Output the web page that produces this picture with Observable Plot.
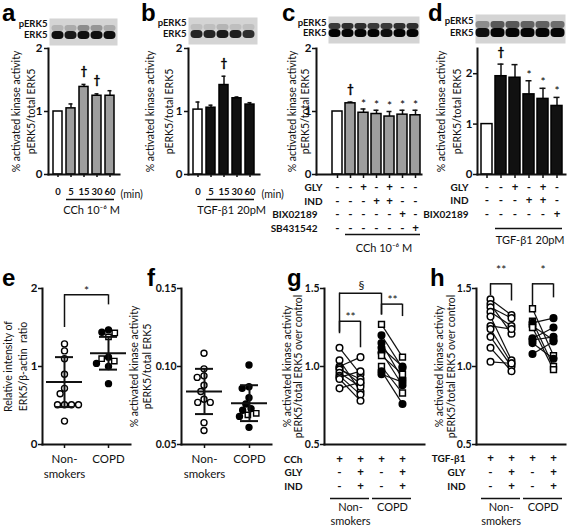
<!DOCTYPE html>
<html><head><meta charset="utf-8">
<script src="https://cdn.jsdelivr.net/npm/d3@7"></script>
<script src="https://cdn.jsdelivr.net/npm/@observablehq/plot@0.6"></script>
<style>
html,body{margin:0;padding:0;background:#fff;}
#root{position:relative;width:567px;height:527px;overflow:hidden;font-family:Lato,"Open Sans",sans-serif;}
#root svg{position:absolute;left:0;top:0;}
.letter{position:absolute;font:bold 24px "Liberation Sans",Arial,sans-serif;line-height:26px;color:#000;}
</style></head><body><div id="root"></div>
<script>
// ---------------- DATA ----------------
// a: CCh time course
const aTimes = ["0", "5", "15", "30", "60"];
const aMean = [1.00, 1.05, 1.39, 1.25, 1.25];
const aErr = [0.00, 0.07, 0.04, 0.03, 0.08];
const aSig = ["", "", "†", "†", ""];
const aBlotP = [0.15, 0.2, 0.35, 0.3, 0.2];
const aBlotE = [0.95, 0.9, 0.95, 0.95, 0.95];
const aGroup = {from: "5", to: "60", label: "CCh 10⁻⁶ M"};
// b: TGF-β1 time course
const bTimes = ["0", "5", "15", "30", "60"];
const bMean = [1.03, 1.06, 1.42, 1.21, 1.11];
const bErr = [0.12, 0.04, 0.14, 0.02, 0.03];
const bSig = ["", "", "†", "", ""];
const bBlotP = [0.1, 0.1, 0.15, 0.1, 0.1];
const bBlotE = [0.85, 0.85, 0.9, 0.88, 0.8];
const bGroup = {from: "5", to: "60", label: "TGF-β1 20pM"};
// c: CCh + inhibitors
const cConds = ["ctrl", "CCh", "GLY", "IND", "GLY+IND", "BIX", "SB"];
const cMean = [1.00, 1.13, 0.98, 0.96, 0.92, 0.95, 0.94];
const cErr = [0.00, 0.02, 0.06, 0.06, 0.08, 0.07, 0.08];
const cSig = ["", "†", "*", "*", "*", "*", "*"];
const cGLY = ["-", "-", "+", "-", "+", "-", "-"];
const cIND = ["-", "-", "-", "+", "+", "-", "-"];
const cBIX = ["-", "-", "-", "-", "-", "+", "-"];
const cSB = ["-", "-", "-", "-", "-", "-", "+"];
const cBlotP = [0.75, 0.8, 0.8, 0.75, 0.75, 0.8, 0.8];
const cBlotE = [1, 1, 1, 1, 0.95, 1, 1];
const cGroup = {from: "CCh", to: "SB", label: "CCh 10⁻⁶ M"};
// d: TGF-β1 + inhibitors
const dConds = ["ctrl", "TGF", "GLY", "IND", "GLY+IND", "BIX"];
const dMean = [1.00, 1.95, 1.92, 1.59, 1.50, 1.36];
const dErr = [0.00, 0.24, 0.26, 0.27, 0.21, 0.17];
const dSig = ["", "†", "", "*", "*", "*"];
const dGLY = ["-", "-", "+", "-", "+", "-"];
const dIND = ["-", "-", "-", "+", "+", "-"];
const dBIX = ["-", "-", "-", "-", "-", "+"];
const dBlotP = [0.35, 0.6, 0.6, 0.55, 0.55, 0.5];
const dBlotE = [0.95, 1, 1, 1, 1, 1];
const dGroup = {from: "TGF", to: "BIX", label: "TGF-β1 20pM"};
// e: ERK5/β-actin
const eCats = ["Non-smokers", "COPD"];
const eCatLabels = ["Non-\nsmokers", "COPD"];
const eNon = [1.29, 1.20, 1.10, 0.90, 0.72, 0.65, 0.51, 0.51, 0.51, 0.51, 0.30];
const eCopd = [1.47, 1.44, 1.43, 1.38, 1.12, 1.10, 1.07, 1.04, 1.00, 0.78];
const eCopdKind = ["filled", "filled", "square", "square", "filled", "square", "square", "filled", "filled", "filled"];
const eMean = [0.80, 1.17];
const eSD = [0.32, 0.21];
const eBrackets = [{from: "Non-smokers", to: "COPD", top: 1.92, left: 1.50, right: 1.79, label: "*"}];
// f: pERK5/total ERK5
const fNon = [0.1085, 0.0985, 0.094, 0.093, 0.088, 0.084, 0.079, 0.077, 0.077, 0.064, 0.059];
const fCopd = [0.101, 0.087, 0.086, 0.080, 0.076, 0.073, 0.072, 0.070, 0.069, 0.068, 0.061];
const fCopdKind = ["filled", "filled", "filled", "filled", "filled", "filled", "filled", "square", "square", "filled", "filled"];
const fMean = [0.084, 0.0765];
const fSD = [0.0145, 0.0115];
// g: CCh paired
const gConds = ["NS-pre", "NS-post", "COPD-pre", "COPD-post"];
const gCCh = ["+", "+", "+", "+"];
const gGLY = ["-", "+", "-", "+"];
const gIND = ["-", "+", "-", "+"];
const gNonPre = [1.12, 1.04, 1.00, 0.99, 0.98, 0.96, 0.94, 0.93, 0.92, 0.86];
const gNonPost = [0.95, 0.84, 1.06, 0.89, 0.92, 0.87, 0.82, 0.97, 0.78, 0.90];
const gCopdPre = [1.27, 1.20, 1.15, 1.12, 1.09, 1.07, 1.00, 0.97, 0.95];
const gCopdPost = [1.06, 0.99, 0.92, 1.00, 0.88, 0.95, 0.83, 0.76, 0.90];
const gCopdKind = ["square", "filled", "filled", "filled", "filled", "square", "square", "filled", "filled"];
const gBrackets = [
  {from: "NS-pre", to: "NS-post", top: 1.29, left: 1.21, right: 1.12, label: "**"},
  {from: "NS-pre", to: "COPD-pre", top: 1.47, left: 1.22, right: 1.33, label: "§"},
  {from: "COPD-pre", to: "COPD-post", top: 1.40, left: 1.33, right: 1.32, label: "**"}
];
const gGroups = [{from: "NS-pre", to: "NS-post", label: "Non-\nsmokers"}, {from: "COPD-pre", to: "COPD-post", label: "COPD"}];
// h: TGF-β1 paired
const hConds = ["NS-pre", "NS-post", "COPD-pre", "COPD-post"];
const hTGF = ["+", "+", "+", "+"];
const hGLY = ["-", "+", "-", "+"];
const hIND = ["-", "+", "-", "+"];
const hNonPre = [1.43, 1.40, 1.38, 1.35, 1.32, 1.26, 1.24, 1.19, 1.12, 1.03];
const hNonPost = [1.33, 1.21, 1.31, 1.26, 1.04, 1.24, 1.02, 1.00, 0.97, 1.02];
const hCopdPre = [1.37, 1.29, 1.28, 1.26, 1.25, 1.18, 1.17, 1.15, 1.08];
const hCopdPost = [1.07, 1.00, 1.31, 1.17, 0.98, 1.25, 1.19, 1.05, 1.16];
const hCopdKind = ["square", "square", "filled", "filled", "square", "filled", "filled", "filled", "filled"];
const hBrackets = [
  {from: "NS-pre", to: "NS-post", top: 1.53, left: 1.455, right: 1.42, label: "**"},
  {from: "COPD-pre", to: "COPD-post", top: 1.53, left: 1.39, right: 1.44, label: "*"}
];
const hGroups = [{from: "NS-pre", to: "NS-post", label: "Non-\nsmokers"}, {from: "COPD-pre", to: "COPD-post", label: "COPD"}];

// ---------------- HELPERS ----------------
const root = document.getElementById("root");
const W = 567, H = 527;
const GRAY = "#9e9e9e", BLACK = "#111";
const KINDS = ["open", "filled", "square"];
const SHAPES = ["circle", "circle", "square"];
const FILLS = ["#fff", "#000", "#fff"];
const FONT = "Lato, 'Open Sans', sans-serif";
const STYLE = {fontFamily: FONT, fontSize: "11px", background: "none", overflow: "visible", color: "#111"};
function box(l, t, r, b) {
  return {width: W, height: H, marginLeft: l, marginTop: t, marginRight: W - r, marginBottom: H - b, style: STYLE};
}
function add(svg) { root.appendChild(svg); }
function bandStep(span, n, pi, po) { return span / (n - pi + 2 * po); }
function label(s, opts) { return Plot.text([s], {text: d => d, fill: "#111", lineAnchor: "middle", ...opts}); }
function axisLines() {
  return [Plot.frame({anchor: "left", strokeWidth: 2}), Plot.frame({anchor: "bottom", strokeWidth: 2})];
}
function yTitles(lines, dxs) {
  return lines.map((s, i) => label(s, {frameAnchor: "left", textAnchor: "middle", rotate: -90, dx: dxs[i], fontSize: 10.5}));
}
function yAxis(ticks, fmt, pad, size = 11.5) {
  return Plot.axisY({ticks, tickFormat: fmt, tickSize: 4, tickPadding: pad, fontWeight: "bold", fontSize: size, strokeWidth: 1.5, label: null});
}
function tableRow(cats, vals, name, dy, dx) {
  return [
    Plot.text(cats, {x: d => d, text: (d, i) => vals[i], frameAnchor: "bottom", lineAnchor: "middle", dy, fontWeight: "bold", fontSize: 11.5, fill: "#111"}),
    label(name, {frameAnchor: "bottom-left", textAnchor: "end", dx, dy, fontWeight: "bold", fontSize: 10})
  ];
}
function barMarks(cats, mean, err, fillOf) {
  const data = cats.map((c, i) => ({c, m: mean[i], e: err[i], i}));
  const withErr = data.filter(d => d.e > 0);
  return [
    Plot.ruleX(withErr, {x: "c", y1: "m", y2: d => d.m + d.e, strokeWidth: 1.5}),
    Plot.tickY(withErr, {x: "c", y: d => d.m + d.e, strokeWidth: 1.5, insetLeft: 2.5, insetRight: 2.5}),
    Plot.barY(data, {x: "c", y: "m", fill: fillOf, stroke: "#000", strokeWidth: 1.5})
  ];
}
function sigMarks(cats, mean, err, sig, symbol, dy) {
  const data = cats.map((c, i) => ({c, top: mean[i] + err[i], s: sig[i]})).filter(d => d.s === symbol);
  const dagger = symbol === "†";
  return Plot.text(data, {x: "c", y: "top", text: d => d.s, dy, fontSize: dagger ? 11 : 12,
    fontWeight: dagger ? "bold" : "normal", fill: "#000", stroke: dagger ? "#000" : "none", strokeWidth: 0.4});
}
function blot(cats, pVals, eVals, [l, t, r, b], pDy, eDy) {
  const cells = cats.map((c, i) => ({c, p: pVals[i], e: eVals[i]}));
  add(Plot.plot({
    ...box(l, t, r, b),
    x: {domain: cats, padding: 0, axis: null},
    y: {domain: ["pERK5", "ERK5"], padding: 0, axis: null},
    color: {type: "linear", domain: [0, 1], range: ["#d4d4d4", "#050505"]},
    marks: [
      Plot.frame({fill: "#d4d4d4", stroke: null}),
      Plot.cell(cells, {x: "c", y: () => "pERK5", fill: "p", insetTop: 6, insetBottom: 1, insetLeft: 0.5, insetRight: 0.5, rx: 3}),
      Plot.cell(cells, {x: "c", y: () => "ERK5", fill: "e", insetTop: -1, insetBottom: 6, insetLeft: 0.5, insetRight: 0.5, rx: 4}),
      label("pERK5", {frameAnchor: "top-left", textAnchor: "end", dx: -2, dy: pDy, fontWeight: "bold", fontSize: 9.5}),
      label("ERK5", {frameAnchor: "bottom-left", textAnchor: "end", dx: -2, dy: eDy, fontWeight: "bold", fontSize: 9.5})
    ]
  }));
}
function summaryMarks(s) {
  return [
    Plot.ruleX(s, {x: "c", y1: d => d.m - d.sd, y2: d => d.m + d.sd, strokeWidth: 2}),
    Plot.ruleY(s, {x1: "c", x2: "c", y: "m", strokeWidth: 2, insetLeft: -18, insetRight: -18}),
    Plot.ruleY(s, {x1: "c", x2: "c", y: d => d.m + d.sd, strokeWidth: 2, insetLeft: -9, insetRight: -9}),
    Plot.ruleY(s, {x1: "c", x2: "c", y: d => d.m - d.sd, strokeWidth: 2, insetLeft: -9, insetRight: -9})
  ];
}
const LABEL_DY = {"*": -4, "**": -4, "§": -8};
function bracketMarks(list, domain, step, extraDy = 0) {
  return [
    Plot.ruleY(list, {x1: "from", x2: "to", y: "top", strokeWidth: 1.5}),
    Plot.ruleX(list, {x: "from", y1: "left", y2: "top", strokeWidth: 1.5}),
    Plot.ruleX(list, {x: "to", y1: "right", y2: "top", strokeWidth: 1.5}),
    ...list.map(br => Plot.text([br], {x: "from", y: "top", text: d => d.label, fill: "#111",
      dx: step * (domain.indexOf(br.to) - domain.indexOf(br.from)) / 2,
      dy: LABEL_DY[br.label] + extraDy, fontSize: 12}))
  ];
}
function xTicks(pad) {
  return Plot.axisX({tickSize: 3, tickPadding: pad, fontWeight: "bold", fontSize: 9.5, strokeWidth: 1.5, label: null});
}
function xTickMarks() {
  return Plot.axisX({tickSize: 4, tickFormat: () => "", strokeWidth: 1.5, label: null});
}

// ---------------- PANEL a ----------------
{
  const [l, t, r, b] = [48, 48, 119, 174];
  const pi = 0.27, po = 0.22;
  const step = bandStep(r - l, aTimes.length, pi, po);
  blot(aTimes, aBlotP, aBlotE, [49, 18, 117, 45], 5.5, -10.5);
  add(Plot.plot({
    ...box(l, t, r, b),
    x: {domain: aTimes, paddingInner: pi, paddingOuter: po, axis: null},
    y: {domain: [0, 2], axis: null},
    marks: [
      ...barMarks(aTimes, aMean, aErr, d => d.i === 0 ? "#fff" : GRAY),
      sigMarks(aTimes, aMean, aErr, aSig, "†", -13),
      ...axisLines(),
      yAxis([0, 1, 2], "d", 2),
      xTicks(11),
      label("(min)", {frameAnchor: "bottom-right", textAnchor: "start", dx: 1, dy: 20, fontSize: 10.5}),
      Plot.ruleY([aGroup], {x1: "from", x2: "to", y: () => 0, dy: 25, strokeWidth: 1.5}),
      Plot.text([aGroup], {x: "from", text: "label", frameAnchor: "bottom", lineAnchor: "middle", dy: 36, dx: 1.5 * step, fontSize: 11, fill: "#111"}),
      ...yTitles(["% activated kinase activity", "pERK5/total ERK5"], [-32, -17])
    ]
  }));
}
// ---------------- PANEL b ----------------
{
  const [l, t, r, b] = [188, 48, 259, 174];
  const pi = 0.27, po = 0.22;
  const step = bandStep(r - l, bTimes.length, pi, po);
  blot(bTimes, bBlotP, bBlotE, [188, 17, 257, 44], 5.5, -10.5);
  add(Plot.plot({
    ...box(l, t, r, b),
    x: {domain: bTimes, paddingInner: pi, paddingOuter: po, axis: null},
    y: {domain: [0, 2], axis: null},
    marks: [
      ...barMarks(bTimes, bMean, bErr, d => d.i === 0 ? "#fff" : BLACK),
      sigMarks(bTimes, bMean, bErr, bSig, "†", -13),
      ...axisLines(),
      yAxis([0, 1, 2], "d", 2),
      xTicks(11),
      label("(min)", {frameAnchor: "bottom-right", textAnchor: "start", dx: 2, dy: 20, fontSize: 10.5}),
      Plot.ruleY([bGroup], {x1: "from", x2: "to", y: () => 0, dy: 25, strokeWidth: 1.5}),
      Plot.text([bGroup], {x: "from", text: "label", frameAnchor: "bottom", lineAnchor: "middle", dy: 36, dx: 1.5 * step, fontSize: 11, fill: "#111"}),
      ...yTitles(["% activated kinase activity", "pERK5/total ERK5"], [-38, -19])
    ]
  }));
}
// ---------------- PANEL c ----------------
{
  const [l, t, r, b] = [316, 48, 421, 174];
  const pi = 0.25, po = 0.543, align = 0.914;
  const step = bandStep(r - l, cConds.length, pi, po);
  blot(cConds, cBlotP, cBlotE, [328, 16, 419, 43], 6.5, -10.5);
  add(Plot.plot({
    ...box(l, t, r, b),
    x: {domain: cConds, paddingInner: pi, paddingOuter: po, align, axis: null},
    y: {domain: [0, 2], axis: null},
    marks: [
      ...barMarks(cConds, cMean, cErr, d => d.i === 0 ? "#fff" : GRAY),
      sigMarks(cConds, cMean, cErr, cSig, "†", -13),
      sigMarks(cConds, cMean, cErr, cSig, "*", -5),
      ...axisLines(),
      yAxis([0, 1, 2], "d", 1),
      xTickMarks(),
      ...tableRow(cConds, cGLY, "GLY", 13, 6),
      ...tableRow(cConds, cIND, "IND", 27, 6),
      ...tableRow(cConds, cBIX, "BIX02189", 40, 1),
      ...tableRow(cConds, cSB, "SB431542", 54, 1),
      Plot.ruleY([cGroup], {x1: "from", x2: "to", y: () => 0, dy: 60, strokeWidth: 1.5}),
      Plot.text([cGroup], {x: "from", text: "label", frameAnchor: "bottom", lineAnchor: "middle", dy: 74, dx: 2.5 * step, fontSize: 11, fill: "#111"}),
      ...yTitles(["% activated kinase activity", "pERK5/total ERK5"], [-24, -11])
    ]
  }));
}
// ---------------- PANEL d ----------------
{
  const [l, t, r, b] = [477, 48, 565, 174];
  const pi = 0.23, po = 0.13;
  const step = bandStep(r - l, dConds.length, pi, po);
  blot(dConds, dBlotP, dBlotE, [475, 14, 565, 43], 6.5, -10.5);
  add(Plot.plot({
    ...box(l, t, r, b),
    x: {domain: dConds, paddingInner: pi, paddingOuter: po, axis: null},
    y: {domain: [0, 2.5], axis: null},
    marks: [
      ...barMarks(dConds, dMean, dErr, d => d.i === 0 ? "#fff" : BLACK),
      sigMarks(dConds, dMean, dErr, dSig, "†", -12),
      sigMarks(dConds, dMean, dErr, dSig, "*", -6),
      ...axisLines(),
      yAxis([0, 1, 2], "d", 1),
      xTickMarks(),
      ...tableRow(dConds, dGLY, "GLY", 13, -9),
      ...tableRow(dConds, dIND, "IND", 26, -9),
      ...tableRow(dConds, dBIX, "BIX02189", 40, -9),
      Plot.ruleY([dGroup], {x1: "from", x2: "to", y: () => 0, dy: 54, strokeWidth: 1.5}),
      Plot.text([dGroup], {x: "from", text: "label", frameAnchor: "bottom", lineAnchor: "middle", dy: 66, dx: 2 * step, fontSize: 11, fill: "#111"}),
      ...yTitles(["% activated kinase activity", "pERK5/total ERK5"], [-36, -20])
    ]
  }));
}
// ---------------- PANELS e & f (scatter with mean ± SD) ----------------
function scatterPanel(frameBox, yDomain, yTicks, fmt, tickSize, non, copd, copdKind, mean, sd, brackets, titles, titleDx) {
  const [l, t, r, b] = frameBox;
  const step = (r - l) / 2;
  const summary = eCats.map((c, i) => ({c, m: mean[i], sd: sd[i]}));
  const nonPts = non.map(v => ({v, k: "open"}));
  const copdPts = copd.map((v, i) => ({v, k: copdKind[i]}));
  const swarm = (data, dx) => Plot.dot(data, Plot.dodgeX({anchor: "middle", padding: 1},
    {y: "v", r: 3, dx, symbol: "k", fill: "k", stroke: "#000", strokeWidth: 1.4}));
  add(Plot.plot({
    ...box(l, t, r, b),
    x: {type: "point", domain: eCats, padding: 0.5, axis: null},
    y: {domain: yDomain, axis: null},
    symbol: {domain: KINDS, range: SHAPES},
    color: {domain: KINDS, range: FILLS},
    marks: [
      swarm(nonPts, -step / 2),
      swarm(copdPts, step / 2),
      ...summaryMarks(summary),
      ...bracketMarks(brackets, eCats, step),
      ...axisLines(),
      yAxis(yTicks, fmt, 1, tickSize),
      xTickMarks(),
      Plot.text(eCats, {x: d => d, text: (d, i) => eCatLabels[i], frameAnchor: "bottom", lineAnchor: "top", dy: 8, lineHeight: 1.3, fontSize: 11.5, fill: "#111"}),
      ...yTitles(titles, titleDx)
    ]
  }));
}
scatterPanel([42, 288, 130, 444], [0, 2], [0, 1, 2], "d", 11.5, eNon, eCopd, eCopdKind, eMean, eSD, eBrackets,
  ["Relative intensity of", "ERK5/β-actin  ratio"], [-34, -19]);
scatterPanel([181, 288, 271, 444], [0.05, 0.15], [0.05, 0.10, 0.15], ".2f", 10.5, fNon, fCopd, fCopdKind, fMean, fSD, [],
  ["% activated kinase activity", "pERK5/total ERK5"], [-47, -34]);

// ---------------- PANELS g & h (paired before/after) ----------------
function pairedPanel(frameBox, conds, padding, align, nonPre, nonPost, copdPre, copdPost, copdKind, brackets, bracketDy,
                     rows, rowDx, groups, titleDx) {
  const [l, t, r, b] = frameBox;
  const step = (r - l) / (conds.length - 1 + 2 * padding);
  const pairs = [
    ...nonPre.map((v, i) => ({pre: conds[0], post: conds[1], a: v, b: nonPost[i], k: "open"})),
    ...copdPre.map((v, i) => ({pre: conds[2], post: conds[3], a: v, b: copdPost[i], k: copdKind[i]}))
  ];
  const pts = pairs.flatMap(p => [{c: p.pre, v: p.a, k: p.k}, {c: p.post, v: p.b, k: p.k}]);
  add(Plot.plot({
    ...box(l, t, r, b),
    x: {type: "point", domain: conds, padding, align, axis: null},
    y: {domain: [0.5, 1.5], axis: null},
    symbol: {domain: KINDS, range: SHAPES},
    color: {domain: KINDS, range: FILLS},
    marks: [
      Plot.link(pairs, {x1: "pre", y1: "a", x2: "post", y2: "b", strokeWidth: 1.2}),
      Plot.dot(pts, {x: "c", y: "v", r: 3.3, symbol: "k", fill: "k", stroke: "#000", strokeWidth: 1.5}),
      ...bracketMarks(brackets, conds, step, bracketDy),
      ...axisLines(),
      yAxis([0.5, 1.0, 1.5], ".1f", 1, 10.5),
      ...rows.flatMap(row => tableRow(conds, row.vals, row.name, row.dy, rowDx)),
      Plot.ruleY(groups, {x1: "from", x2: "to", y: () => 0.5, dy: 54, strokeWidth: 1.5, insetLeft: -9, insetRight: -9}),
      Plot.text(groups, {x: "from", text: "label", frameAnchor: "bottom", lineAnchor: "top", dy: 57, dx: step / 2, lineHeight: 1.25, fontSize: 11, fill: "#111"}),
      ...yTitles(["% activated kinase activity", "pERK5/total ERK5 over control"], titleDx)
    ]
  }));
}
pairedPanel([324, 288, 424, 444], gConds, 0.773, 0.41, gNonPre, gNonPost, gCopdPre, gCopdPost, gCopdKind, gBrackets, 0,
  [{name: "CCh", vals: gCCh, dy: 15}, {name: "GLY", vals: gGLY, dy: 28}, {name: "IND", vals: gIND, dy: 42}], -22, gGroups, [-37, -26]);
pairedPanel([476, 288, 565, 444], hConds, 0.586, 0.52, hNonPre, hNonPost, hCopdPre, hCopdPost, hCopdKind, hBrackets, -10,
  [{name: "TGF-β1", vals: hTGF, dy: 14}, {name: "GLY", vals: hGLY, dy: 28}, {name: "IND", vals: hIND, dy: 42}], -11, hGroups, [-37, -25]);

// ---------------- panel letters ----------------
[["a", 2, 0], ["b", 141, 0], ["c", 282, 0], ["d", 428, 0], ["e", 2, 265], ["f", 147, 265], ["g", 287, 265], ["h", 430, 265]]
  .forEach(([s, x, y]) => {
    const d = document.createElement("div");
    d.className = "letter"; d.textContent = s; d.style.left = x + "px"; d.style.top = y + "px";
    root.appendChild(d);
  });
</script></body></html>
